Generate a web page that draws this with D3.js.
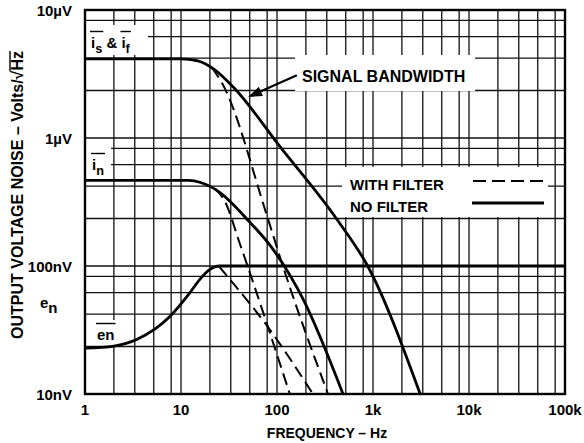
<!DOCTYPE html>
<html>
<head>
<meta charset="utf-8">
<script src="https://d3js.org/d3.v7.min.js"></script>
<style>
  body { margin: 0; background: #fff; }
  text { font-family: Arial, "Liberation Sans", Helvetica, sans-serif; font-weight: bold; fill: #000; white-space: pre; }
</style>
</head>
<body>
<div id="chart"></div>
<script>
  // axis decades + labels
  const xDecades = [1, 10, 100, 1000, 10000, 100000];
  const xTickLabels = ["1", "10", "100", "1k", "10k", "100k"];
  const xMinor = [2, 3.3, 5.2, 7.9];          // grid multipliers
  const yDecades = [10, 100, 1000, 10000];     // nV
  const yTickLabels = ["10nV", "100nV", "1\u00B5V", "10\u00B5V"];
  const yMinor = [2.35, 4.2, 6.2, 8.3];

  // curves: [frequency Hz, noise nV/rtHz]
  const isifSolid = [[1, 4150], [10, 4150], [15, 4000], [22, 3450], [35, 2500], [107, 860], [420, 232], [880, 100], [3100, 10]];
  const isifFilter = [[21, 3540], [27, 2650], [79, 244], [115, 100], [340, 10]];
  const inSolid = [[1, 466], [12, 466], [16, 449], [25.5, 375], [49, 231], [91, 135], [187, 55], [487, 10]];
  const inFilter = [[22.6, 403], [28.7, 319], [41.2, 148], [136, 10]];
  const enSolid = [[1, 22.8], [2, 23.7], [3.5, 26.8], [7.7, 40.5], [12.4, 62], [15.8, 79], [20, 94], [25, 100], [100000, 100]];
  const enFilter = [[25, 99], [30, 84], [79, 34], [237, 10]];

  // arrow annotation (data units)
  const arrowTail = [161, 3090];
  const arrowTip = [50, 2090];

  const w = 584, h = 443;
  const padL = 85, padR = 565, padT = 10, padB = 394;

  const x = d3.scaleLog().domain([1, 100000]).range([padL, padR]);
  const y = d3.scaleLog().domain([10, 10000]).range([padB, padT]);

  const svg = d3.select("#chart").append("svg")
      .attr("width", w)
      .attr("height", h);

  svg.append("rect").attr("width", w).attr("height", h).attr("fill", "#fff");

  // grid
  const xGrid = [];
  xDecades.forEach(d => { xGrid.push(d); if (d < 100000) xMinor.forEach(m => xGrid.push(d * m)); });
  const yGrid = [];
  yDecades.forEach(d => { yGrid.push(d); if (d < 10000) yMinor.forEach(m => yGrid.push(d * m)); });

  const grid = svg.append("g").attr("stroke", "#111").attr("stroke-width", 1.3);
  grid.selectAll(".vx").data(xGrid).enter().append("line")
      .attr("x1", d => x(d)).attr("x2", d => x(d))
      .attr("y1", padT).attr("y2", padB);
  grid.selectAll(".hy").data(yGrid).enter().append("line")
      .attr("y1", d => y(d)).attr("y2", d => y(d))
      .attr("x1", padL).attr("x2", padR);

  // white boxes behind in-plot labels
  const boxes = [[86, 25, 62, 30], [86, 147, 25, 30], [92, 320, 24, 25], [295, 55, 180, 36], [342, 167, 206, 50]];
  svg.selectAll(".box").data(boxes).enter().append("rect")
      .attr("x", d => d[0]).attr("y", d => d[1]).attr("width", d => d[2]).attr("height", d => d[3])
      .attr("fill", "#fff");

  const line = d3.line().x(d => x(d[0])).y(d => y(d[1])).curve(d3.curveMonotoneX);

  function curve(data, dashed) {
    svg.append("path")
      .datum(data)
      .attr("fill", "none")
      .attr("stroke", "#000")
      .attr("stroke-width", dashed ? 2 : 2.8)
      .attr("stroke-dasharray", dashed ? "12,6" : null)
      .attr("d", line);
  }
  curve(isifSolid, false);
  curve(inSolid, false);
  curve(enSolid, false);
  curve(isifFilter, true);
  curve(inFilter, true);
  curve(enFilter, true);

  // frame
  svg.append("rect")
     .attr("x", padL).attr("y", padT)
     .attr("width", padR - padL).attr("height", padB - padT)
     .attr("fill", "none").attr("stroke", "#000").attr("stroke-width", 2.4);

  // tick labels
  svg.selectAll(".xl").data(xDecades).enter().append("text")
     .attr("x", d => x(d)).attr("y", 415)
     .attr("text-anchor", "middle").attr("font-size", 15)
     .text((d, i) => xTickLabels[i]);
  svg.selectAll(".yl").data(yDecades).enter().append("text")
     .attr("x", 72).attr("y", d => y(d) + 6)
     .attr("text-anchor", "end").attr("font-size", 15)
     .text((d, i) => yTickLabels[i]);

  // axis titles
  svg.append("text")
     .attr("x", 327).attr("y", 438)
     .attr("text-anchor", "middle").attr("font-size", 14)
     .text("FREQUENCY \u2013 Hz");

  const yt = svg.append("g").attr("transform", "translate(23,195) rotate(-90)");
  const ytText = yt.append("text").attr("text-anchor", "middle").attr("font-size", 16)
     .text("OUTPUT VOLTAGE NOISE \u2013 Volts/\u221AHz");
  {
    const n = ytText.text().length;
    const s = ytText.node().getStartPositionOfChar(n - 2);
    const e = ytText.node().getEndPositionOfChar(n - 1);
    yt.append("line").attr("x1", s.x - 1).attr("x2", e.x).attr("y1", -13).attr("y2", -13)
      .attr("stroke", "#000").attr("stroke-width", 1.4);
  }

  // e_n label beside the axis
  const enLab = svg.append("text").attr("x", 40).attr("y", 308).attr("font-size", 15);
  enLab.append("tspan").text("e");
  enLab.append("tspan").attr("dy", 5).text("n");

  // labels with overline + subscript
  function richLabel(x0, y0, parts, size) {
    let cx = x0;
    parts.forEach(p => {
      const t = svg.append("text").attr("x", cx).attr("y", y0).attr("font-size", size);
      t.append("tspan").text(p.main);
      if (p.sub) t.append("tspan").attr("dy", 5).attr("font-size", size * 0.85).text(p.sub);
      const wd = t.node().getComputedTextLength();
      if (p.over) {
        svg.append("line")
          .attr("x1", cx - 1).attr("x2", cx + wd + 1)
          .attr("y1", y0 - size * 1.1).attr("y2", y0 - size * 1.1)
          .attr("stroke", "#000").attr("stroke-width", 1.4);
      }
      cx += wd;
    });
  }
  richLabel(91, 48, [{ main: "i", sub: "s", over: true }, { main: " & " }, { main: "i", sub: "f", over: true }], 15);
  richLabel(92, 170, [{ main: "i", sub: "n", over: true }], 15);
  richLabel(97, 340, [{ main: "en", over: true }], 15);

  // signal bandwidth annotation
  svg.append("text").attr("x", 302).attr("y", 82).attr("font-size", 16).text("SIGNAL BANDWIDTH");
  {
    const tx = x(arrowTail[0]), ty = y(arrowTail[1]);
    const px = x(arrowTip[0]), py = y(arrowTip[1]);
    const ang = Math.atan2(py - ty, px - tx);
    const hl = 14, hw = 5;
    const bx = px - hl * Math.cos(ang), by = py - hl * Math.sin(ang);
    svg.append("line").attr("x1", tx).attr("y1", ty).attr("x2", bx).attr("y2", by)
       .attr("stroke", "#000").attr("stroke-width", 2.2);
    svg.append("polygon")
       .attr("points", [
         [px, py],
         [bx + hw * Math.sin(ang), by - hw * Math.cos(ang)],
         [bx - hw * Math.sin(ang), by + hw * Math.cos(ang)]
       ].map(p => p.join(",")).join(" "))
       .attr("fill", "#000");
  }

  // legend
  svg.append("text").attr("x", 350).attr("y", 190).attr("font-size", 15).text("WITH FILTER");
  svg.append("text").attr("x", 350).attr("y", 212).attr("font-size", 15).text("NO FILTER");
  svg.append("line").attr("x1", 473).attr("x2", 543).attr("y1", 181).attr("y2", 181)
     .attr("stroke", "#000").attr("stroke-width", 2).attr("stroke-dasharray", "13,6");
  svg.append("line").attr("x1", 472).attr("x2", 544).attr("y1", 203).attr("y2", 203)
     .attr("stroke", "#000").attr("stroke-width", 2.8);
</script>
</body>
</html>
